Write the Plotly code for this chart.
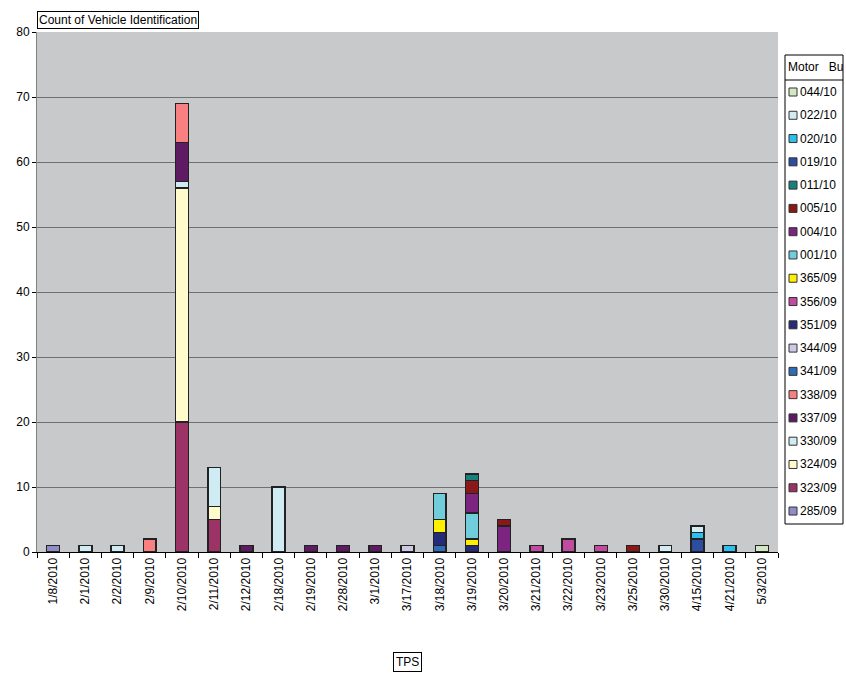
import plotly.graph_objects as go

dates = ["1/8/2010", "2/1/2010", "2/2/2010", "2/9/2010", "2/10/2010", "2/11/2010",
         "2/12/2010", "2/18/2010", "2/19/2010", "2/28/2010", "3/1/2010", "3/17/2010",
         "3/18/2010", "3/19/2010", "3/20/2010", "3/21/2010", "3/22/2010", "3/23/2010",
         "3/25/2010", "3/30/2010", "4/15/2010", "4/21/2010", "5/3/2010"]

# series in stacking order (bottom to top)
s285_09 = {"1/8/2010": 1}
s323_09 = {"2/10/2010": 20, "2/11/2010": 5}
s324_09 = {"2/10/2010": 36, "2/11/2010": 2}
s330_09 = {"2/1/2010": 1, "2/2/2010": 1, "2/10/2010": 1, "2/11/2010": 6, "2/18/2010": 10}
s337_09 = {"2/10/2010": 6, "2/12/2010": 1, "2/19/2010": 1, "2/28/2010": 1, "3/1/2010": 1}
s338_09 = {"2/9/2010": 2, "2/10/2010": 6}
s341_09 = {"3/18/2010": 1}
s344_09 = {"3/17/2010": 1}
s351_09 = {"3/18/2010": 2, "3/19/2010": 1}
s356_09 = {"3/21/2010": 1, "3/22/2010": 2, "3/23/2010": 1}
s365_09 = {"3/18/2010": 2, "3/19/2010": 1}
s001_10 = {"3/18/2010": 4, "3/19/2010": 4}
s004_10 = {"3/19/2010": 3, "3/20/2010": 4}
s005_10 = {"3/19/2010": 2, "3/20/2010": 1, "3/25/2010": 1}
s011_10 = {"3/19/2010": 1}
s019_10 = {"4/15/2010": 2}
s020_10 = {"4/15/2010": 1, "4/21/2010": 1}
s022_10 = {"3/30/2010": 1, "4/15/2010": 1}
s044_10 = {"5/3/2010": 1}

series = [
    ("285/09", s285_09, "#8F8DC8"),
    ("323/09", s323_09, "#9B3366"),
    ("324/09", s324_09, "#FFFBCC"),
    ("330/09", s330_09, "#CFEBF3"),
    ("337/09", s337_09, "#5E1A62"),
    ("338/09", s338_09, "#F98080"),
    ("341/09", s341_09, "#2E6BB8"),
    ("344/09", s344_09, "#CCC9E6"),
    ("351/09", s351_09, "#262A7A"),
    ("356/09", s356_09, "#C24BA2"),
    ("365/09", s365_09, "#FFF000"),
    ("001/10", s001_10, "#70CDDC"),
    ("004/10", s004_10, "#7B2480"),
    ("005/10", s005_10, "#8B1818"),
    ("011/10", s011_10, "#17807C"),
    ("019/10", s019_10, "#2C4DA0"),
    ("020/10", s020_10, "#2BC0EE"),
    ("022/10", s022_10, "#D3ECF4"),
    ("044/10", s044_10, "#D2E8C2"),
]
legend_title = "Motor&nbsp;&nbsp;&nbsp;Bus"

W, H = 846, 674
ML, MR, MT, MB = 37, 68, 32, 122
PW, PH = W - ML - MR, H - MT - MB


def px(x):
    return (x - ML) / PW


def py(y):
    return (H - MB - y) / PH


fig = go.Figure()
for i, (name, vals, color) in enumerate(series):
    y = [vals.get(d, None) for d in dates]
    fig.add_trace(go.Bar(
        x=dates, y=y, name=name,
        marker=dict(color=color, line=dict(color="#222222", width=1.5)),
    ))

font = "Liberation Sans, Arial, sans-serif"

shapes = []
annotations = [
    dict(text="Count of Vehicle Identification", xref="paper", yref="paper",
         x=0, y=1, xanchor="left", yanchor="bottom", yshift=3, showarrow=False,
         bordercolor="black", borderwidth=1, borderpad=1, bgcolor="white",
         font=dict(size=12)),
    dict(text="TPS", xref="paper", yref="paper", x=0.5, y=py(662),
         xanchor="center", yanchor="middle", showarrow=False,
         bordercolor="black", borderwidth=1, borderpad=2, bgcolor="white",
         font=dict(size=12)),
]

# manual legend box (Excel style)
LX0, LX1, LY0, LY1, LYT = 785, 843, 55, 524, 80
shapes.append(dict(type="rect", xref="paper", yref="paper",
                   x0=px(LX0), x1=px(LX1), y0=py(LY1), y1=py(LY0),
                   line=dict(color="black", width=1), fillcolor="white", layer="above"))
shapes.append(dict(type="line", xref="paper", yref="paper",
                   x0=px(LX0), x1=px(LX1), y0=py(LYT), y1=py(LYT),
                   line=dict(color="black", width=1), layer="above"))
annotations.append(dict(text=legend_title, xref="paper", yref="paper",
                        x=px(LX0 + 1), y=py((LY0 + LYT) / 2), xanchor="left", yanchor="middle",
                        width=LX1 - LX0 - 3, align="left", showarrow=False,
                        font=dict(size=12)))
y_first, step = 92.0, 23.28
for k, (name, vals, color) in enumerate(reversed(series)):
    cy = y_first + k * step
    shapes.append(dict(type="rect", xref="paper", yref="paper",
                       x0=px(789), x1=px(797), y0=py(cy + 4), y1=py(cy - 4),
                       line=dict(color="#333333", width=1), fillcolor=color, layer="above"))
    annotations.append(dict(text=name, xref="paper", yref="paper",
                            x=px(798), y=py(cy), xanchor="left", yanchor="middle",
                            showarrow=False, font=dict(size=12)))

fig.update_layout(
    barmode="stack",
    bargap=0.6,
    width=W, height=H,
    margin=dict(l=ML, r=MR, t=MT, b=MB, autoexpand=False),
    paper_bgcolor="white",
    plot_bgcolor="#C8C9CB",
    font=dict(family=font, size=12, color="black"),
    showlegend=False,
    xaxis=dict(
        type="category", tickangle=-90, showgrid=False,
        ticks="outside", ticklen=5, tickcolor="black",
        tickson="boundaries",
        showline=True, linecolor="black", linewidth=1,
        tickfont=dict(size=12),
    ),
    yaxis=dict(
        range=[0, 80], dtick=10, showgrid=True, gridcolor="#707070", gridwidth=1,
        ticks="outside", ticklen=4, tickcolor="black",
        showline=True, linecolor="#808080", linewidth=1,
        zeroline=False,
        tickfont=dict(size=12),
    ),
    shapes=shapes,
    annotations=annotations,
)

fig.write_html("out.html", config={"displayModeBar": False},
               post_script="document.body.style.margin='0';")
